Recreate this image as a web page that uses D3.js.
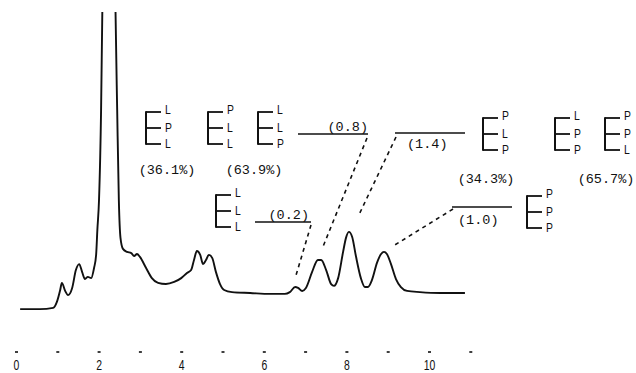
<!DOCTYPE html>
<html>
<head>
<meta charset="utf-8">
<script src="https://cdn.jsdelivr.net/npm/d3@7"></script>
<style>
  body { margin: 0; background: #fff; }
  svg { display: block; }
</style>
</head>
<body>
<svg id="chart" width="636" height="373"></svg>
<script>
// Elution trace: retention time (min) and detector signal (relative units)
const retention = [
  0.10, 0.58, 0.90, 0.99, 1.07, 1.11, 1.19, 1.26, 1.36, 1.45, 1.53, 1.60, 1.67, 1.74, 1.82,
  1.89, 1.94, 1.97, 2.01, 2.06, 2.09, 2.12, 2.25, 2.39, 2.41, 2.45, 2.49, 2.53, 2.59, 2.69,
  2.79, 2.86, 2.93, 3.00, 3.15, 3.29, 3.44, 3.63, 3.83, 4.00, 4.14, 4.24, 4.31, 4.38, 4.46,
  4.53, 4.60, 4.67, 4.75, 4.84, 4.94, 5.04, 5.23, 5.67, 6.15, 6.51, 6.63, 6.76, 6.83, 6.93,
  7.02, 7.17, 7.31, 7.39, 7.51, 7.63, 7.70, 7.80, 7.92, 7.99, 8.06, 8.14, 8.23, 8.35, 8.45,
  8.52, 8.62, 8.74, 8.84, 8.91, 8.98, 9.08, 9.20, 9.32, 9.47, 9.78, 10.27, 10.87
];
const signal = [
  0.3, 0.3, 0.7, 2.7, 6.7, 9.1, 6.4, 5.0, 7.4, 13.4, 15.4, 12.8, 10.4, 11.1, 10.7,
  14.1, 18.5, 26.9, 36.9, 67.1, 100.0, 124.0, 238.0, 124.0, 100.0, 67.1, 36.9, 24.2, 20.5, 19.5,
  19.1, 18.1, 18.8, 17.8, 14.1, 10.7, 9.1, 8.7, 9.4, 10.7, 12.4, 13.4, 16.8, 19.8, 18.5,
  15.4, 16.8, 18.5, 17.5, 12.8, 8.7, 6.7, 6.0, 5.7, 5.4, 5.4, 6.0, 7.7, 7.4, 6.4,
  7.4, 12.8, 16.8, 16.8, 13.4, 8.7, 8.1, 10.7, 19.5, 24.2, 26.2, 24.5, 18.1, 10.7, 7.7,
  7.7, 10.1, 15.8, 18.8, 19.5, 18.8, 15.4, 10.4, 7.7, 6.4, 6.0, 5.7, 5.7
];

// Axis ticks (every minute) and their labels (even minutes only)
const tickValues = [0, 1, 2, 3, 4, 5, 6, 7, 8, 9, 10, 11];
const tickLabels = ["0", "", "2", "", "4", "", "6", "", "8", "", "10", ""];

// Resolved peaks and their relative amounts
const peakTimes = [6.76, 7.31, 8.06, 8.91];
const peakRatios = [0.2, 0.8, 1.4, 1.0];

// Triacylglycerol species (sn-1, sn-2, sn-3) and isomer shares
const species = ["LPL", "PLL", "LLP", "LLL", "PLP", "LPP", "PPL", "PPP"];
const shareLabels = ["(36.1%)", "(63.9%)", "(34.3%)", "(65.7%)"];

// ---- layout ----
const svg = d3.select("#chart");
const x = d3.scaleLinear().domain([0, 11]).range([16, 16 + 11 * 41.3]);
const y = d3.scaleLinear().domain([0, 100]).range([310, 12]);
const ink = "#111";
const monoFont = "'Liberation Mono', 'DejaVu Sans Mono', monospace";

svg.append("defs").append("clipPath").attr("id", "plot-clip")
  .append("rect").attr("x", 0).attr("y", 12).attr("width", 636).attr("height", 361);

// Trace
const trace = retention.map((t, i) => ({ t, v: signal[i] }));
svg.append("path")
  .datum(trace)
  .attr("clip-path", "url(#plot-clip)")
  .attr("fill", "none")
  .attr("stroke", ink)
  .attr("stroke-width", 1.9)
  .attr("stroke-linejoin", "round")
  .attr("d", d3.line().x(d => x(d.t)).y(d => y(d.v)).curve(d3.curveMonotoneX));

// Time axis: short dash ticks, numbers on even minutes
const axis = d3.axisBottom(x)
  .tickValues(tickValues)
  .tickSize(0)
  .tickFormat((d, i) => tickLabels[i]);
const axisG = svg.append("g").attr("transform", "translate(0,352)").call(axis);
axisG.select(".domain").remove();
axisG.selectAll(".tick").append("rect")
  .attr("x", -1.5).attr("y", -0.8).attr("width", 3).attr("height", 1.6).attr("fill", ink);
axisG.selectAll(".tick text")
  .attr("y", 18).attr("dy", 0)
  .attr("fill", ink)
  .attr("font-family", "'Liberation Sans', 'DejaVu Sans', sans-serif")
  .attr("font-size", 14.5)
  .attr("transform", "scale(0.72,1)");

// Peak annotations: ledger line, value, dashed leader to the apex
const peakLayout = [
  { x1: 255, x2: 311, ly: 222, tx: 309, ty: 219, anchor: "end",   sx: 311, sy: 225, dx: 0,  dy: -9 },
  { x1: 298, x2: 368, ly: 134, tx: 368, ty: 131, anchor: "end",   sx: 367, sy: 138, dx: 5,  dy: -13 },
  { x1: 395, x2: 465, ly: 133, tx: 407, ty: 148, anchor: "start", sx: 396, sy: 137, dx: 10, dy: -17 },
  { x1: 452, x2: 512, ly: 207, tx: 458, ty: 224, anchor: "start", sx: 453, sy: 209, dx: 11, dy: -7 }
];

function apexNear(t0) {
  const near = trace.filter(d => Math.abs(d.t - t0) < 0.2);
  return near.reduce((a, b) => (b.v > a.v ? b : a));
}

const ann = svg.append("g");
peakTimes.forEach((t0, i) => {
  const L = peakLayout[i];
  const apex = apexNear(t0);
  ann.append("line")
    .attr("x1", L.x1).attr("x2", L.x2).attr("y1", L.ly).attr("y2", L.ly)
    .attr("stroke", ink).attr("stroke-width", 1.5);
  ann.append("text")
    .attr("x", L.tx).attr("y", L.ty)
    .attr("text-anchor", L.anchor)
    .attr("font-family", monoFont).attr("font-size", 13.5).attr("fill", ink)
    .text(`(${peakRatios[i].toFixed(1)})`);
  ann.append("line")
    .attr("x1", L.sx).attr("y1", L.sy)
    .attr("x2", x(apex.t) + L.dx).attr("y2", y(apex.v) + L.dy)
    .attr("stroke", ink).attr("stroke-width", 1.6)
    .attr("stroke-dasharray", "4,4");
});

// Glycerol backbone glyphs with acyl chains at each position
const combLayout = [
  { x: 146, y: 112 }, { x: 208, y: 112 }, { x: 258, y: 112 }, { x: 216, y: 195 },
  { x: 483, y: 118 }, { x: 555, y: 118 }, { x: 605, y: 118 }, { x: 527, y: 196 }
];
const combH = 32, prong = 15;

species.forEach((code, i) => {
  const p = combLayout[i];
  const g = svg.append("g").attr("transform", `translate(${p.x},${p.y})`);
  const ys = [0, combH / 2, combH];
  g.append("line").attr("x1", 0).attr("x2", 0).attr("y1", -0.8).attr("y2", combH + 0.8)
    .attr("stroke", ink).attr("stroke-width", 2);
  ys.forEach((py, k) => {
    g.append("line").attr("x1", 0).attr("x2", prong).attr("y1", py).attr("y2", py)
      .attr("stroke", ink).attr("stroke-width", 1.8);
    g.append("text")
      .attr("transform", `translate(${prong + 4},${py + (k === 0 ? 2 : 4)}) scale(0.8,1)`)
      .attr("font-family", "'Liberation Sans', 'DejaVu Sans', sans-serif")
      .attr("font-size", 13).attr("fill", ink)
      .text(code[k]);
  });
});

// Isomer shares under the paired species
const shareLayout = [
  { x: 167, y: 174 }, { x: 254, y: 174 }, { x: 486, y: 183 }, { x: 606, y: 183 }
];
shareLabels.forEach((s, i) => {
  svg.append("text")
    .attr("x", shareLayout[i].x).attr("y", shareLayout[i].y)
    .attr("text-anchor", "middle")
    .attr("font-family", monoFont).attr("font-size", 13.5).attr("fill", ink)
    .text(s);
});
</script>
</body>
</html>
